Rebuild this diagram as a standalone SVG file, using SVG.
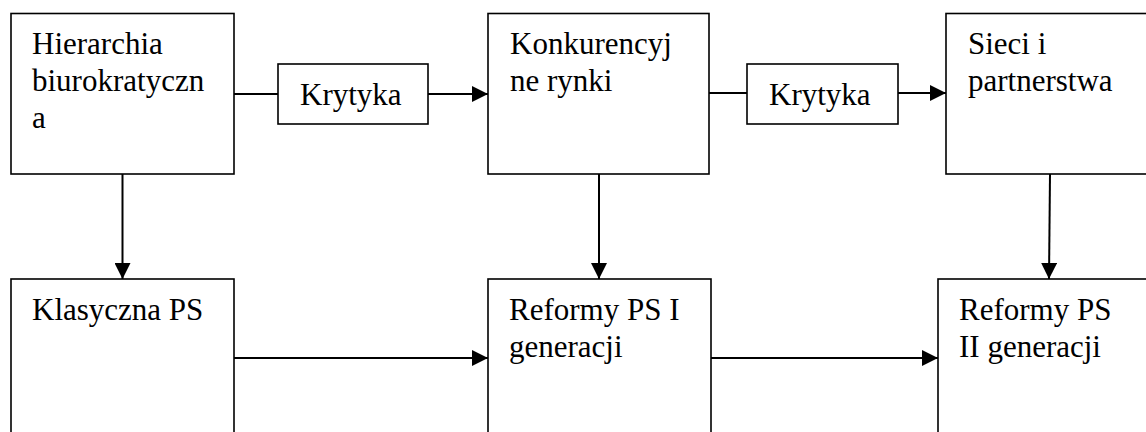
<svg xmlns="http://www.w3.org/2000/svg" width="1146" height="432" viewBox="0 0 1146 432">
<style>
.box{fill:#fff;stroke:#000;stroke-width:1.6}
.t{font-family:"Liberation Serif","Times New Roman",serif;font-size:31px;fill:#000}
.c{stroke:#000;stroke-width:2;fill:none}
.a{marker-end:url(#ah)}
</style>
<defs>
<marker id="ah" markerUnits="userSpaceOnUse" markerWidth="16" markerHeight="16" refX="16" refY="8" orient="auto">
<path d="M0,0 L16,8 L0,16 z" fill="#000"/>
</marker>
</defs>
<rect width="1146" height="432" fill="#fff"/>
<g id="connectors">
<line class="c" x1="234" y1="94" x2="278" y2="94"/>
<line class="c a" x1="428" y1="94" x2="488" y2="94"/>
<line class="c" x1="709" y1="93" x2="747" y2="93"/>
<line class="c a" x1="898" y1="93" x2="946" y2="93"/>
<line class="c a" x1="122.5" y1="174" x2="122.5" y2="279"/>
<line class="c a" x1="599" y1="174" x2="599" y2="279"/>
<line class="c a" x1="1050" y1="174" x2="1049" y2="279"/>
<line class="c a" x1="234" y1="358" x2="488" y2="358"/>
<line class="c a" x1="711" y1="358" x2="938" y2="358"/>
</g>
<g id="hierarchia">
<rect class="box" x="11" y="13.5" width="223" height="160.5"/>
<text class="t" x="32" y="54">Hierarchia</text>
<text class="t" x="32" y="91">biurokratyczn</text>
<text class="t" x="32" y="128">a</text>
</g>
<g id="krytyka1">
<rect class="box" x="278" y="64" width="150" height="60"/>
<text class="t" x="300" y="105">Krytyka</text>
</g>
<g id="konkurencyjne">
<rect class="box" x="488" y="13.5" width="221" height="160.5"/>
<text class="t" x="510" y="54">Konkurencyj</text>
<text class="t" x="510" y="91">ne rynki</text>
</g>
<g id="krytyka2">
<rect class="box" x="747" y="64" width="151" height="60"/>
<text class="t" x="769" y="105">Krytyka</text>
</g>
<g id="sieci">
<rect class="box" x="946" y="13.5" width="210" height="160.5"/>
<text class="t" x="968" y="54">Sieci i</text>
<text class="t" x="968" y="91">partnerstwa</text>
</g>
<g id="klasyczna">
<rect class="box" x="11" y="279" width="223" height="170"/>
<text class="t" x="32" y="320">Klasyczna PS</text>
</g>
<g id="reformy1">
<rect class="box" x="488" y="279" width="223" height="170"/>
<text class="t" x="509" y="320">Reformy PS I</text>
<text class="t" x="509" y="357">generacji</text>
</g>
<g id="reformy2">
<rect class="box" x="938" y="279" width="220" height="170"/>
<text class="t" x="959" y="320">Reformy PS</text>
<text class="t" x="959" y="357">II generacji</text>
</g>
</svg>
